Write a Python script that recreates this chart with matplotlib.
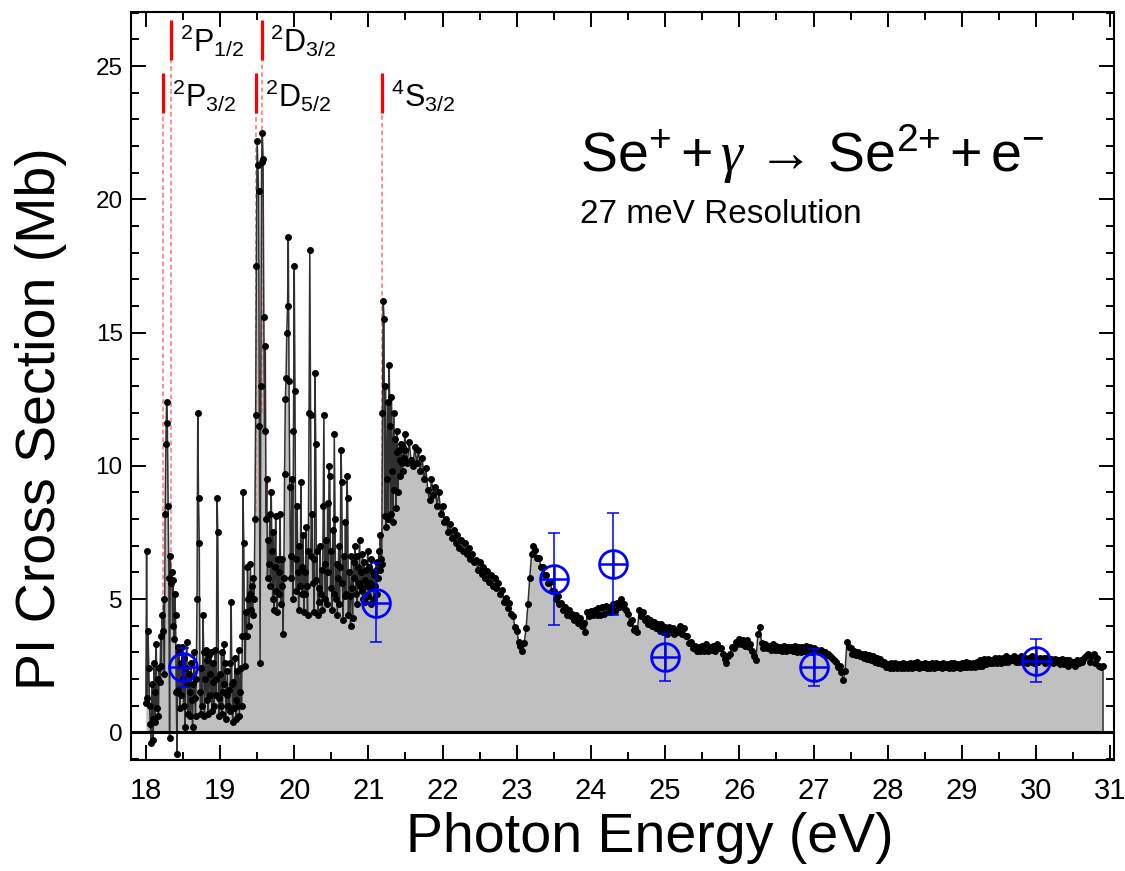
import numpy as np
import matplotlib
matplotlib.use('Agg')
import matplotlib.pyplot as plt
from matplotlib import font_manager
from matplotlib.ticker import MultipleLocator

# ---------------- data ----------------
# dense scan 18.00 - 21.49 eV (0.01 eV step), Mb
spiky_start = 18.00
spiky_step = 0.01
spiky_values = [
    1.1, 6.8, 1.3, 3.8, 2.4, 1.0, 0.3, -0.4, 1.8, 0.5,
    -0.3, 2.6, 0.4, 1.5, 3.3, 0.9, 2.0, 0.6, 2.4, 1.9,
    3.6, 2.5, 4.4, 3.8, 5.0, 2.2, 8.2, 10.8, 12.4, 11.6,
    8.5, 5.8, -0.2, 6.6, 5.6, 6.0, 4.0, 5.7, 3.5, 5.2,
    4.4, 1.5, -0.8, 3.2, 1.6, 3.0, 0.9, 2.6, 1.4, 3.2,
    2.0, 1.0, 2.8, 0.2, 2.4, 3.4, 1.8, 0.7, 2.2, 1.5,
    0.6, 2.6, 1.2, 0.2, 1.8, 3.0, 1.3, 0.6, 2.0, 5.0,
    12.0, 8.8, 7.1, 1.5, 0.7, 2.4, 1.0, 4.4, 3.0, 0.6,
    2.0, 3.1, 1.2, 2.7, 0.7, 2.9, 2.2, 1.4, 3.0, 0.8,
    1.9, 2.6, 1.0, 3.1, 2.0, 1.4, 8.8, 7.5, 1.3, 0.6,
    2.2, 1.0, 3.0, 0.7, 1.5, 3.3, 1.8, 2.6, 0.5, 1.4,
    2.3, 1.0, 1.6, 0.8, 2.6, 4.9, 1.8, 0.4, 1.9, 0.9,
    2.8, 1.2, 0.5, 2.3, 1.0, 3.1, 0.6, 1.5, 2.4, 1.0,
    3.6, 9.0, 7.1, 3.6, 2.5, 4.5, 3.6, 6.2, 5.0, 4.0,
    5.2, 6.3, 4.6, 5.5, 4.4, 5.8, 5.0, 8.0, 11.9, 17.5,
    22.2, 21.3, 20.3, 11.5, 2.6, 13.0, 21.4, 22.5, 21.5, 15.6,
    11.3, 14.5, 8.0, 9.5, 5.8, 7.2, 6.3, 8.2, 5.5, 9.0,
    6.8, 5.0, 7.5, 4.6, 6.2, 8.1, 5.3, 4.5, 6.5, 5.2,
    6.0, 8.2, 4.8, 5.5, 6.5, 3.7, 5.8, 9.7, 12.5, 13.3,
    15.0, 16.0, 18.6, 13.2, 9.2, 5.8, 6.6, 9.5, 5.0, 11.3,
    17.5, 12.8, 6.5, 5.3, 8.5, 6.0, 4.6, 7.0, 5.5, 9.4,
    6.2, 5.2, 7.4, 4.5, 6.0, 5.2, 7.7, 5.5, 4.4, 6.8,
    12.0, 18.1, 11.9, 6.6, 8.2, 5.6, 6.5, 4.5, 13.5, 10.8,
    5.7, 6.8, 4.4, 5.4, 4.9, 7.0, 5.2, 6.1, 4.6, 8.5,
    11.9, 6.3, 5.0, 7.2, 4.8, 8.6, 6.0, 10.0, 9.6, 5.4,
    6.8, 4.6, 7.6, 5.2, 11.2, 8.0, 5.0, 6.3, 4.4, 5.8,
    7.0, 4.8, 6.2, 10.6, 9.4, 5.6, 4.2, 6.6, 5.1, 7.9,
    5.2, 9.6, 8.8, 4.4, 6.0, 5.1, 4.0, 6.6, 5.4, 4.3,
    6.4, 5.8, 7.0, 5.2, 6.6, 4.8, 6.2, 5.6, 7.2, 5.5,
    6.0, 5.3, 6.7, 5.0, 6.4, 5.7, 4.9, 6.1, 5.5, 6.8,
    5.1, 6.2, 5.6, 4.8, 6.5, 5.4, 6.0, 5.0, 5.9, 5.5,
    6.1, 5.2, 6.4, 5.8, 6.8, 6.1, 7.4, 6.5, 6.3, 12.0,
    16.2, 15.5, 8.1, 13.0, 7.7, 9.5, 12.4, 8.0, 13.8, 11.5,
    8.2, 12.6, 9.8, 7.9, 12.0, 9.1, 11.0, 8.4, 11.3, 10.5,
    9.0, 10.6, 10.2, 9.6, 10.8, 10.1, 9.8, 10.7, 10.3, 11.2,
]

# scan 21.50 - 30.90 eV (0.025 eV step), Mb
smooth_start = 21.50
smooth_step = 0.025
smooth_values = [
    10.6, 10.1, 10.9, 10.2, 10.0, 10.7, 10.1, 10.6,
    9.8, 10.3, 9.5, 9.9, 9.1, 8.7, 9.5, 8.9,
    9.2, 8.5, 9.0, 8.2, 8.5, 7.9, 8.0, 7.5,
    7.8, 7.3, 7.6, 7.1, 7.4, 6.9, 7.2, 6.8,
    7.1, 6.7, 6.9, 6.5, 6.7, 6.4, 6.45, 6.1,
    6.4, 5.95, 6.2, 5.8, 6.05, 5.65, 5.9, 5.5,
    5.8, 5.4, 5.6, 5.2, 5.35, 4.9, 5.05, 4.65,
    4.85, 4.45, 4.35, 3.95, 3.8, 3.4, 3.25, 3.05,
    3.35, 3.9, 4.8, 5.8, 6.7, 7.0, 6.85, 6.55,
    6.55, 6.2, 6.2, 5.9, 5.9, 5.6, 5.65, 5.3,
    5.3, 5.0, 5.1, 4.8, 4.85, 4.6, 4.7, 4.4,
    4.6, 4.35, 4.45, 4.2, 4.4, 4.1, 4.3, 4.0,
    4.1, 3.75, 4.5, 4.35, 4.55, 4.4, 4.6, 4.4,
    4.65, 4.4, 4.7, 4.45, 4.75, 4.5, 4.7, 4.5,
    4.8, 4.55, 4.85, 4.7, 5.0, 4.7, 4.8, 4.6,
    4.45, 4.1, 4.2, 3.85, 3.9, 3.75, 4.6, 4.35,
    4.5, 4.2, 4.3, 4.05, 4.2, 4.0, 4.15, 3.9,
    4.05, 3.8, 4.05, 3.75, 3.95, 3.7, 3.95, 3.75,
    3.9, 3.7, 3.85, 3.75, 4.0, 3.7, 3.9, 3.6,
    3.6, 3.35, 3.4, 3.15, 3.25, 3.05, 3.2, 3.05,
    3.25, 3.05, 3.3, 3.05, 3.2, 3.1, 3.25, 3.05,
    3.3, 3.15, 3.15, 2.95, 2.75, 2.6, 2.85, 2.95,
    3.2, 3.15, 3.4, 3.3, 3.5, 3.3, 3.45, 3.25,
    3.45, 3.2, 3.3, 3.05, 2.85, 2.7, 3.7, 3.95,
    3.35, 3.15, 3.3, 3.15, 3.25, 3.1, 3.3, 3.1,
    3.25, 3.1, 3.2, 3.05, 3.25, 3.05, 3.2, 3.1,
    3.2, 3.05, 3.25, 3.0, 3.2, 3.0, 3.2, 3.05,
    3.25, 3.0, 3.2, 3.0, 3.15, 3.05, 3.1, 3.0,
    3.1, 2.95, 3.0, 2.9, 2.95, 2.85, 2.8, 2.7,
    2.65, 2.45, 2.5, 2.25, 1.95, 2.3, 3.4, 3.2,
    3.15, 2.95, 3.05, 2.9, 3.0, 2.85, 2.95, 2.8,
    2.95, 2.75, 2.9, 2.7, 2.85, 2.65, 2.8, 2.6,
    2.75, 2.55, 2.65, 2.45, 2.55, 2.4, 2.6, 2.4,
    2.6, 2.4, 2.55, 2.4, 2.6, 2.4, 2.55, 2.4,
    2.6, 2.4, 2.6, 2.45, 2.65, 2.4, 2.55, 2.45,
    2.6, 2.4, 2.55, 2.4, 2.6, 2.4, 2.6, 2.45,
    2.55, 2.4, 2.6, 2.45, 2.55, 2.4, 2.6, 2.4,
    2.6, 2.45, 2.55, 2.4, 2.6, 2.45, 2.65, 2.45,
    2.6, 2.45, 2.6, 2.45, 2.65, 2.5, 2.7, 2.5,
    2.75, 2.55, 2.75, 2.6, 2.7, 2.6, 2.8, 2.6,
    2.8, 2.6, 2.8, 2.65, 2.85, 2.65, 2.8, 2.7,
    2.85, 2.65, 2.8, 2.65, 2.85, 2.65, 2.8, 2.6,
    2.8, 2.65, 2.85, 2.6, 2.8, 2.65, 2.8, 2.7,
    2.8, 2.6, 2.8, 2.65, 2.75, 2.6, 2.75, 2.65,
    2.7, 2.55, 2.75, 2.55, 2.7, 2.5, 2.7, 2.55,
    2.65, 2.5, 2.7, 2.6, 2.7, 2.65, 2.8, 2.85,
    2.95, 2.65, 2.85, 2.95, 2.6, 2.8, 2.5, 2.45,
    2.5,
]

# absolute measurements (blue)
abs_energy = [18.5, 21.1, 23.5, 24.3, 25.0, 27.0, 30.0]
abs_sigma = [2.44, 4.86, 5.74, 6.32, 2.81, 2.44, 2.69]
abs_error = [0.74, 1.48, 1.73, 1.90, 0.88, 0.70, 0.82]

# thresholds
thr_energy = [18.23, 18.34, 19.48, 19.56, 21.19]
thr_labels = [r'$\mathregular{{}^{2}P_{3/2}}$', r'$\mathregular{{}^{2}P_{1/2}}$',
              r'$\mathregular{{}^{2}D_{5/2}}$', r'$\mathregular{{}^{2}D_{3/2}}$',
              r'$\mathregular{{}^{4}S_{3/2}}$']
thr_upper_row = [False, True, False, True, False]
thr_dash_end = [4.6, 5.9, 8.0, 12.0, 7.2]

x_ticks = [18, 19, 20, 21, 22, 23, 24, 25, 26, 27, 28, 29, 30, 31]
y_ticks = [0, 5, 10, 15, 20, 25]

# ---------------- fonts ----------------
names = {f.name for f in font_manager.fontManager.ttflist}
SANS = 'Liberation Sans' if 'Liberation Sans' in names else 'DejaVu Sans'
NARROW = 'Liberation Sans Narrow' if 'Liberation Sans Narrow' in names else SANS
plt.rcParams['font.family'] = [SANS, 'DejaVu Sans']
plt.rcParams['mathtext.fontset'] = 'custom'
plt.rcParams['mathtext.rm'] = SANS
plt.rcParams['mathtext.it'] = 'Liberation Serif:italic'
plt.rcParams['mathtext.bf'] = SANS + ':bold'

# ---------------- figure ----------------
W, H = 1125, 871
fig = plt.figure(figsize=(W / 100, H / 100), dpi=100)
L, R, T, B = 131, 1114, 12, 760
ax = fig.add_axes([L / W, 1 - B / H, (R - L) / W, (B - T) / H])

E1 = np.round(spiky_start + spiky_step * np.arange(len(spiky_values)), 4)
E2 = np.round(smooth_start + smooth_step * np.arange(len(smooth_values)), 4)
E = np.concatenate([E1, E2])
S = np.array(spiky_values + smooth_values)

ax.fill_between(E, 0, S, color='#C0C0C0', lw=0, zorder=1)
ax.plot([E[-1], E[-1]], [0, S[-1]], color='#404040', lw=1.2, zorder=2)

for e, up, lo in zip(thr_energy, thr_upper_row, thr_dash_end):
    top = 25.23 if up else 23.24
    seg_top = 26.73 if up else 24.74
    ax.plot([e, e], [lo, top], color='#FF7070', lw=1.1, ls=(0, (3, 2)), zorder=2)
    ax.plot([e, e], [top, seg_top], color='#FF0000', lw=2.3, zorder=3, solid_capstyle='butt')

ax.plot(E, S, color='#303030', lw=1.1, marker='o', ms=4.0, mfc='black', mec='black',
        zorder=3)

ax.axhline(0, color='black', lw=2.2, zorder=4)

ax.errorbar(abs_energy, abs_sigma, yerr=abs_error, fmt='none', ecolor='#0000FF',
            elinewidth=1.1, capsize=4.5, capthick=1.1, zorder=5)
ax.plot(abs_energy, abs_sigma, ls='none', marker='o', ms=20, mfc='none', mec='#0000FF',
        mew=2.0, zorder=6)
ax.plot(abs_energy, abs_sigma, ls='none', marker='+', ms=20, mec='#0000FF',
        mew=1.8, zorder=6)

for e, lab, up in zip(thr_energy, thr_labels, thr_upper_row):
    ax.text(e + 0.12, 25.53 if up else 23.47, lab, fontsize=22, ha='left',
            va='baseline', zorder=7)

ax.text(23.85, 21.04,
        r'$\mathregular{Se^{+}}+\gamma\,\rightarrow\,\mathregular{Se^{2{+}}}+\mathregular{e^{-}}$',
        fontsize=40, ha='left', va='baseline')
ax.text(23.85, 19.12, '27 meV Resolution', fontsize=24, ha='left', va='baseline')

ax.set_xlim(17.80, 31.05)
ax.set_ylim(-1.04, 27.03)

ax.set_xticks(x_ticks)
ax.set_xticklabels([str(t) for t in x_ticks], fontsize=21, fontfamily=NARROW)
ax.set_yticks(y_ticks)
ax.set_yticklabels([str(t) for t in y_ticks], fontsize=17.5)
ax.xaxis.set_minor_locator(MultipleLocator(0.5))
ax.yaxis.set_minor_locator(MultipleLocator(1))
ax.tick_params(which='both', direction='in', top=True, right=True, width=1.4)
ax.tick_params(which='major', length=11)
ax.tick_params(which='minor', length=5.5)
ax.tick_params(axis='x', which='major', pad=12)
ax.tick_params(axis='y', which='major', pad=6)
for sp in ax.spines.values():
    sp.set_linewidth(1.5)

ax.set_xlabel('Photon Energy (eV)', fontsize=40)
ax.set_ylabel('PI Cross Section (Mb)', fontsize=40)
ax.xaxis.set_label_coords(0.528, -0.069)
ax.yaxis.set_label_coords(-0.065, 0.457)

fig.savefig('out.png', dpi=100)
